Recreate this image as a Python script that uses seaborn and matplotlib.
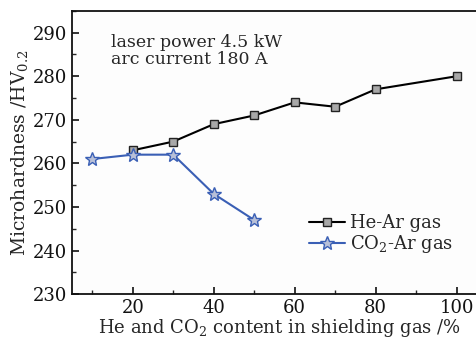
import matplotlib
matplotlib.use("Agg")
import matplotlib.pyplot as plt
import seaborn as sns
import pandas as pd
from matplotlib.ticker import MultipleLocator

he_x = [20, 30, 40, 50, 60, 70, 80, 100]
he_y = [263, 265, 269, 271, 274, 273, 277, 280]
co2_x = [10, 20, 30, 40, 50]
co2_y = [261, 262, 262, 253, 247]
x_ticks = [20, 40, 60, 80, 100]
y_ticks = [230, 240, 250, 260, 270, 280, 290]

sns.set_theme(style="ticks")
plt.rcParams['font.family'] = ['DejaVu Serif']
plt.rcParams['mathtext.fontset'] = 'dejavuserif'

fig = plt.figure(figsize=(4.77, 3.40), dpi=100)
ax = fig.add_axes([0.151, 0.135, 0.87, 0.833])

df_he = pd.DataFrame({"x": he_x, "y": he_y})
df_co = pd.DataFrame({"x": co2_x, "y": co2_y})

sns.lineplot(data=df_he, x="x", y="y", ax=ax, color="black", lw=1.5,
             marker="s", markersize=6, markerfacecolor="#a8a8a8",
             markeredgecolor="#222222", markeredgewidth=1.0, label="He-Ar gas")
sns.lineplot(data=df_co, x="x", y="y", ax=ax, color="#3a5fb5", lw=1.5,
             marker="*", markersize=10, markerfacecolor="#b8c0d8",
             markeredgecolor="#3a5fb5", markeredgewidth=1.0, label="CO$_2$-Ar gas")

ax.set_xlim(5, 107.5)
ax.set_ylim(230, 295)
ax.set_xticks(x_ticks)
ax.set_yticks(y_ticks)
ax.xaxis.set_minor_locator(MultipleLocator(10))
ax.yaxis.set_minor_locator(MultipleLocator(5))
ax.tick_params(which="major", direction="in", length=5, width=1.2, labelsize=13,
               top=False, right=False, colors="#111111")
ax.tick_params(which="minor", direction="in", length=3, width=1.0, top=False, right=False)
for s in ax.spines.values():
    s.set_linewidth(1.3)
    s.set_color("#111111")

ax.set_xlabel("He and CO$_2$ content in shielding gas /%", fontsize=13, labelpad=0)
ax.set_ylabel("Microhardness /HV$_{0.2}$", fontsize=13.5, labelpad=2)

ax.text(0.093, 0.92, "laser power 4.5 kW\narc current 180 A", transform=ax.transAxes,
        fontsize=12.5, va="top", ha="left", linespacing=1.05)

ax.legend(loc="center left", bbox_to_anchor=(0.54, 0.21), frameon=False, fontsize=13,
          handlelength=2.0, handletextpad=0.3, labelspacing=0.05, borderpad=0.2)

fig.patch.set_facecolor("white")
ax.set_facecolor("#fdfdfd")
fig.savefig("out.png", dpi=100)
